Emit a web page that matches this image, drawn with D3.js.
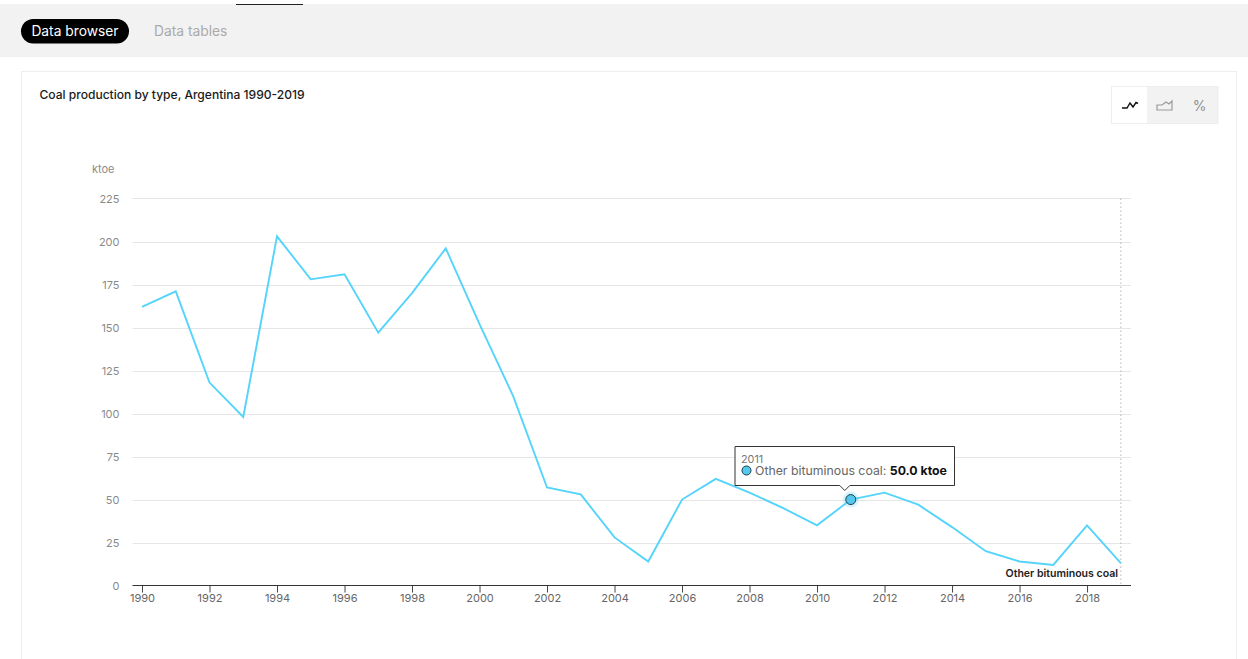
<!DOCTYPE html>
<html>
<head>
<meta charset="utf-8">
<script src="https://cdn.jsdelivr.net/npm/d3@7/dist/d3.min.js"></script>
<style>
  html, body { margin: 0; padding: 0; background: #fff; overflow: hidden; }
  svg { display: block; font-family: Inter, "Open Sans", sans-serif; }
</style>
</head>
<body>
<svg id="chart" width="1248" height="659"></svg>
<script>
const years = [1990,1991,1992,1993,1994,1995,1996,1997,1998,1999,2000,2001,2002,2003,2004,2005,2006,2007,2008,2009,2010,2011,2012,2013,2014,2015,2016,2017,2018,2019];
const otherBituminous = [162,171,118,98,203,178,181,147,170,196,152,110,57,53,28,14,50,62,54,45,35,50,54,47,34,20,14,12,35,13];
const yTicks = [0,25,50,75,100,125,150,175,200,225];
const xTicks = [1990,1992,1994,1996,1998,2000,2002,2004,2006,2008,2010,2012,2014,2016,2018];
const chartTitle = "Coal production by type, Argentina 1990-2019";
const seriesName = "Other bituminous coal";
const unit = "ktoe";
const hoverYear = 2011;

const svg = d3.select("#chart");
const x = d3.scaleLinear().domain([1990, 2019]).range([142, 1120.8]);
const y = d3.scaleLinear().domain([0, 225]).range([585.58, 198.49]);

// Page chrome: tab strip and card
svg.append("rect").attr("x",0).attr("y",4).attr("width",1248).attr("height",53).attr("fill","#f2f2f2");
svg.append("rect").attr("x",236).attr("y",4).attr("width",67).attr("height",1).attr("fill","#222");
svg.append("rect").attr("x",21).attr("y",19).attr("width",108).attr("height",24.5).attr("rx",12.25).attr("fill","#000");
svg.append("text").attr("x",75).attr("y",35.5).attr("text-anchor","middle").attr("font-size",13.8).attr("fill","#fff").text("Data browser");
svg.append("text").attr("x",154).attr("y",35.5).attr("font-size",13.8).attr("fill","#aaa").text("Data tables");
svg.append("rect").attr("x",21.5).attr("y",71.5).attr("width",1215).attr("height",600).attr("fill","#fff").attr("stroke","#eeeeee");
svg.append("text").attr("x",39.5).attr("y",99).attr("font-size",12.05).attr("font-weight",500).attr("fill","#1a1a1a").text(chartTitle);

// Chart-type switcher
svg.append("rect").attr("x",1111.5).attr("y",86.5).attr("width",106.5).attr("height",37).attr("fill","#f2f2f2").attr("stroke","#eeeeee");
svg.append("rect").attr("x",1112).attr("y",87).attr("width",35).attr("height",36).attr("fill","#fff");
svg.append("path").attr("d","M1122 108H1127L1130 103L1133 107L1136 102.5L1138 103.5").attr("fill","none").attr("stroke","#111").attr("stroke-width",1.4);
svg.append("path").attr("d","M1157 110V105H1162L1166 102L1169 104L1172 101V110Z").attr("fill","none").attr("stroke","#999").attr("stroke-width",1.2);
svg.append("text").attr("x",1199.5).attr("y",110.5).attr("text-anchor","middle").attr("font-size",14).attr("fill","#909090").text("%");

// Gridlines and y axis
const yAxis = d3.axisLeft(y).tickValues(yTicks).tickSize(0).tickPadding(0);
svg.append("g").selectAll("line").data(yTicks.filter(d => d > 0)).join("line")
  .attr("x1",132.5).attr("x2",1131).attr("y1",d => Math.round(y(d))+0.5).attr("y2",d => Math.round(y(d))+0.5)
  .attr("stroke","#e6e6e6");
const yG = svg.append("g").attr("transform","translate(119.5,0.5)").call(yAxis);
yG.select(".domain").remove();
yG.selectAll("text").attr("font-size",11).attr("font-family","Inter, sans-serif").attr("fill","#8a8a8a").attr("dy","0.35em");
svg.append("text").attr("x",92).attr("y",173).attr("font-size",11).attr("fill","#8a8a8a").text(unit);

// End-of-range marker
svg.append("line").attr("x1",x(2019)).attr("x2",x(2019)).attr("y1",198.5).attr("y2",585)
  .attr("stroke","#b5b5b5").attr("stroke-dasharray","1.5,2.5");

// X axis
const xAxis = d3.axisBottom(x).tickValues(xTicks).tickFormat(d3.format("d")).tickSize(7).tickPadding(2);
const xG = svg.append("g").attr("transform","translate(0,585.5)").call(xAxis);
xG.select(".domain").remove();
xG.selectAll("line").attr("stroke","#444");
xG.selectAll("text").attr("font-size",11).attr("font-family","Inter, sans-serif").attr("fill","#666");
svg.append("line").attr("x1",132.5).attr("x2",1131).attr("y1",585.5).attr("y2",585.5).attr("stroke","#333").attr("stroke-width",1.2);

// Series line
const line = d3.line().x((d,i) => x(years[i])).y(d => y(d));
svg.append("path").datum(otherBituminous).attr("d",line).attr("fill","none").attr("stroke","#55d4fb").attr("stroke-width",1.9);
svg.append("text").attr("x",1118).attr("y",576.5).attr("text-anchor","end").attr("font-size",10.55).attr("font-weight",600).attr("fill","#222").text(seriesName);

// Hover state
const hoverValue = otherBituminous[years.indexOf(hoverYear)];
const hx = x(hoverYear), hy = y(hoverValue);
svg.append("circle").attr("cx",hx).attr("cy",hy).attr("r",8).attr("fill","#55d4fb").attr("opacity",0.25);
svg.append("circle").attr("cx",hx).attr("cy",hy).attr("r",5).attr("fill","#55c8f0").attr("stroke","#1f3b46").attr("stroke-width",1);
const tx = 735, ty = 446.5, tw = 219.5, th = 39;
svg.append("path")
  .attr("d",`M${tx} ${ty}H${tx+tw}V${ty+th}H${hx-1}L${hx-6} ${ty+th+5}L${hx-11} ${ty+th}H${tx}Z`)
  .attr("fill","#fff").attr("stroke","#333");
svg.append("text").attr("x",741).attr("y",462.5).attr("font-size",10.8).attr("fill","#777").text(hoverYear);
svg.append("circle").attr("cx",746.5).attr("cy",470.5).attr("r",4.5).attr("fill","#55c8f0").attr("stroke","#1f3b46");
const label = svg.append("text").attr("x",755).attr("y",475).attr("font-size",12.3).attr("fill","#666");
label.append("tspan").text(seriesName + ": ");
label.append("tspan").attr("font-weight",700).attr("fill","#111").text(hoverValue.toFixed(1) + " " + unit);
</script>
</body>
</html>
